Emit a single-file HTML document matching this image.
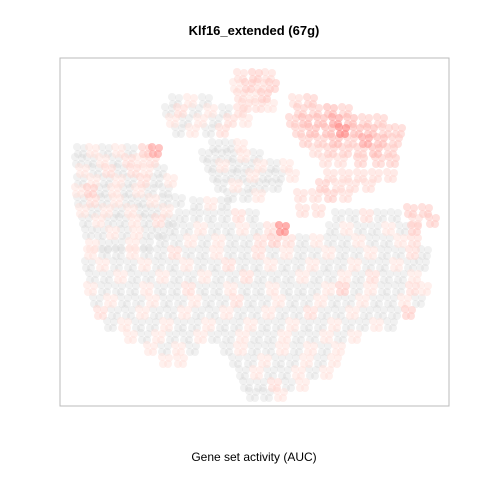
<!DOCTYPE html>
<html><head><meta charset="utf-8"><style>
body{margin:0;background:#fff;}
svg{display:block;font-family:"Liberation Sans",sans-serif;}
</style></head><body>
<svg id="chart" width="480" height="480" viewBox="0 0 480 480">
<text x="254" y="35" text-anchor="middle" font-size="13" font-weight="bold">Klf16_extended (67g)</text>
<rect x="60" y="58" width="389" height="348" fill="none" stroke="#bbb" stroke-width="1"/>
<g id="pts"></g>
<text x="254" y="461" text-anchor="middle" font-size="12">Gene set activity (AUC)</text>
</svg>
<script>
// points: [tsne1, tsne2, auc]
const clusterTop=[[240,75,.2],[255,75,.3],[268,75,.2],[236,85,.1],[248,85,.3],[260,85,.2],[272,85,.3],[240,95,.2],[252,95,.1],[264,95,.3],[245,105,.2],[258,105,.2],[270,105,.1]];
const clusterUpperLeft=[[175,100,0],[190,100,.1],[205,100,0],[168,110,0],[180,110,.2],[195,110,0],[210,110,.1],[225,110,0],[240,110,.2],[172,120,.1],[185,120,0],[200,120,.1],[215,120,0],[230,120,.2],[245,120,.1],[178,130,0],[192,130,.1],[208,130,0],[222,130,.2]];
const clusterRed=[[295,100,.2],[310,100,.3],[300,110,.3],[315,110,.3],[330,110,.4],[345,110,.3],[292,120,.3],[305,120,.4],[320,120,.4],[335,120,.5],[350,120,.4],[365,120,.3],[380,120,.3],[298,130,.3],[312,130,.4],[328,130,.4],[342,130,.6],[356,130,.4],[370,130,.4],[385,130,.3],[398,130,.3],[305,140,.3],[320,140,.3],[335,140,.4],[350,140,.3],[365,140,.5],[380,140,.4],[395,140,.3],[315,150,.2],[330,150,.3],[345,150,.3],[360,150,.3],[375,150,.4],[390,150,.3],[325,160,.2],[340,160,.2],[360,160,.3],[378,160,.3],[392,160,.3]];
const clusterMidRight=[[330,175,.2],[345,175,.2],[360,175,.2],[375,175,.2],[390,175,.2],[322,185,.3],[338,185,.2],[352,185,.2],[368,185,.2],[300,195,.2],[315,195,.2],[330,195,.3],[345,195,.2],[410,210,.3],[425,210,.3],[302,210,.2],[318,210,.2],[415,220,.2],[432,220,.3]];
const clusterLeft=[[80,150,0],[92,150,.1],[105,150,0],[118,150,.1],[130,150,0],[145,150,.3],[155,150,.5],[78,160,0],[90,160,0],[102,160,.1],[115,160,0],[128,160,.2],[140,160,.1],[152,160,.2],[82,170,.1],[95,170,0],[108,170,.2],[120,170,0],[133,170,.2],[146,170,.1],[160,170,0],[80,180,0],[93,180,.1],[106,180,0],[118,180,.1],[130,180,0],[143,180,.2],[156,180,0],[170,180,.1],[78,190,.1],[90,190,.3],[102,190,0],[114,190,.1],[126,190,0],[138,190,.1],[150,190,0],[165,190,0],[80,200,0],[92,200,.2],[104,200,0],[116,200,.1],[128,200,0],[140,200,0],[152,200,.1],[165,200,0],[178,200,0],[82,210,.1],[94,210,0],[106,210,.1],[118,210,0],[130,210,.1],[142,210,0],[154,210,0],[166,210,.1],[85,220,0],[98,220,.1],[110,220,0],[122,220,0],[134,220,.1],[146,220,0],[158,220,.2],[170,220,0],[88,232,0],[100,232,0],[112,232,.1],[124,232,0],[136,232,.1],[148,232,0],[160,232,0],[92,245,.1],[105,245,0],[118,244,0],[132,244,.1],[146,244,0],[196,203,0],[210,203,.1],[224,203,0]];
const clusterMid=[[215,145,0],[228,145,0],[240,145,.1],[205,155,0],[218,155,0],[230,155,0],[243,155,.1],[256,155,0],[210,165,0],[222,165,.1],[235,165,0],[248,165,0],[260,165,.1],[273,165,0],[286,165,.1],[215,175,0],[228,175,0],[240,175,0],[252,175,.1],[265,175,0],[278,175,0],[292,175,.1],[220,185,0],[235,185,.1],[250,185,0],[262,185,0],[275,185,0],[230,195,0],[245,195,0],[258,195,.1]];
const clusterLower=[[182,215,0],[196,215,0],[210,215,0],[224,215,0],[238,215,.2],[252,215,0],[338,215,0],[352,215,0],[366,215,.2],[380,215,0],[394,215,0],
[172,228,0],[186,228,0],[200,228,.1],[214,228,0],[228,228,0],[242,228,.1],[256,228,0],[270,228,.2],[282,228,.6],[332,228,0],[346,228,.1],[360,228,0],[374,228,0],[388,228,.1],[402,228,0],[414,228,.3],
[162,240,0],[176,240,0],[190,240,.1],[204,240,0],[218,240,.1],[232,240,0],[246,240,0],[260,240,.2],[274,240,.3],[288,240,.2],[302,240,0],[316,240,.1],[330,240,0],[344,240,0],[358,240,.1],[372,240,0],[386,240,0],[400,240,.1],[414,240,.2],
[90,252,.1],[104,252,0],[118,252,0],[132,252,.1],[146,252,0],[160,252,0],[174,252,.2],[188,252,0],[202,252,0],[216,252,.1],[230,252,0],[244,252,0],[258,252,.2],[272,252,0],[286,252,.1],[300,252,0],[314,252,0],[328,252,.1],[342,252,0],[356,252,0],[370,252,.1],[384,252,0],[398,252,0],[412,252,.2],[424,252,0],
[88,264,0],[102,264,.1],[116,264,0],[130,264,0],[144,264,.1],[158,264,0],[172,264,0],[186,264,.1],[200,264,0],[214,264,0],[228,264,.2],[242,264,0],[256,264,0],[270,264,.1],[284,264,0],[298,264,0],[312,264,.1],[326,264,0],[340,264,0],[354,264,.1],[368,264,0],[382,264,0],[396,264,.1],[410,264,0],[422,264,0],
[92,276,0],[106,276,0],[120,276,.1],[134,276,0],[148,276,0],[162,276,.1],[176,276,0],[190,276,0],[204,276,.1],[218,276,0],[232,276,0],[246,276,.2],[260,276,0],[274,276,0],[288,276,0],[302,276,.1],[316,276,0],[330,276,0],[344,276,.1],[358,276,0],[372,276,.2],[386,276,0],[400,276,0],[414,276,.1],
[90,288,.1],[104,288,0],[118,288,0],[132,288,0],[146,288,.1],[160,288,0],[174,288,0],[188,288,.2],[202,288,0],[216,288,0],[230,288,.1],[244,288,0],[258,288,0],[272,288,.1],[286,288,0],[300,288,0],[314,288,0],[328,288,.1],[342,288,.3],[356,288,0],[370,288,.1],[384,288,0],[398,288,0],[412,288,.2],[424,288,.1],
[96,300,0],[110,300,.1],[124,300,0],[138,300,0],[152,300,.1],[166,300,0],[180,300,0],[194,300,.1],[208,300,0],[222,300,0],[236,300,.2],[250,300,0],[264,300,0],[278,300,.1],[292,300,0],[306,300,0],[320,300,.1],[334,300,0],[348,300,0],[362,300,.1],[376,300,0],[390,300,0],[404,300,.1],[418,300,0],
[100,312,.2],[114,312,0],[128,312,0],[142,312,.1],[156,312,0],[170,312,0],[184,312,.1],[198,312,0],[212,312,0],[226,312,.1],[240,312,0],[254,312,0],[268,312,.1],[282,312,0],[296,312,0],[310,312,.2],[324,312,0],[338,312,0],[352,312,.1],[366,312,0],[380,312,0],[394,312,0],[408,312,.3],
[110,324,0],[124,324,.1],[138,324,0],[152,324,0],[166,324,.1],[180,324,0],[194,324,0],[208,324,.1],[222,324,0],[236,324,0],[250,324,.1],[264,324,0],[278,324,0],[292,324,.1],[306,324,0],[320,324,0],[334,324,.1],[348,324,0],[362,324,0],[376,324,.1],[390,324,0],
[130,336,.1],[144,336,0],[158,336,.1],[172,336,0],[186,336,0],[200,336,.1],[214,336,0],[228,336,0],[242,336,.1],[256,336,0],[270,336,0],[284,336,.1],[298,336,0],[312,336,0],[326,336,.1],[340,336,0],[354,336,.1],
[150,348,.1],[164,348,0],[178,348,.1],[192,348,0],[226,348,0],[240,348,.1],[254,348,0],[268,348,0],[282,348,.1],[296,348,0],[310,348,.1],[324,348,0],[338,348,.1],
[165,360,.1],[180,360,.1],[235,360,0],[250,360,0],[264,360,.1],[278,360,0],[292,360,0],[306,360,.1],[320,360,0],[334,360,.1],
[242,372,0],[256,372,.1],[270,372,0],[284,372,0],[298,372,.1],[312,372,0],[326,372,.1],
[246,384,0],[260,384,0],[274,384,.2],[288,384,0],[302,384,.1],[252,394,0],[266,394,0],[280,394,.1]];

const xDomain=[0,480], yDomain=[0,480];
function xScale(d){return (d-xDomain[0])/(xDomain[1]-xDomain[0])*480;}
function yScale(d){return (d-yDomain[0])/(yDomain[1]-yDomain[0])*480;}
function colorOf(v){
  if(v<0.05) return 'rgba(212,212,212,0.32)';
  const k=1-v*v*0.9-v*0.1;
  const g=Math.round(228*k), b=Math.round(222*k);
  return 'rgba(255,'+g+','+b+','+(0.45+0.4*v)+')';
}
const all=[].concat(clusterTop,clusterUpperLeft,clusterRed,clusterMidRight,clusterLeft,clusterMid,clusterLower).sort((a,b)=>a[2]-b[2]);
const layer=document.getElementById('pts');
const NS='http://www.w3.org/2000/svg';
const spread=[[-3,-3],[4,-2],[-2,4],[3,4]]; // marker glyph shape
all.forEach(p=>{
  const g=document.createElementNS(NS,'g');
  
  
  spread.forEach(o=>{
    const c=document.createElementNS(NS,'circle');
    c.setAttribute('cx',xScale(p[0])+o[0]);
    c.setAttribute('cy',yScale(p[1])+o[1]);
    c.setAttribute('r',4);
    c.setAttribute('fill',colorOf(p[2]));
    g.appendChild(c);
  });
  layer.appendChild(g);
});
</script>
</body></html>
